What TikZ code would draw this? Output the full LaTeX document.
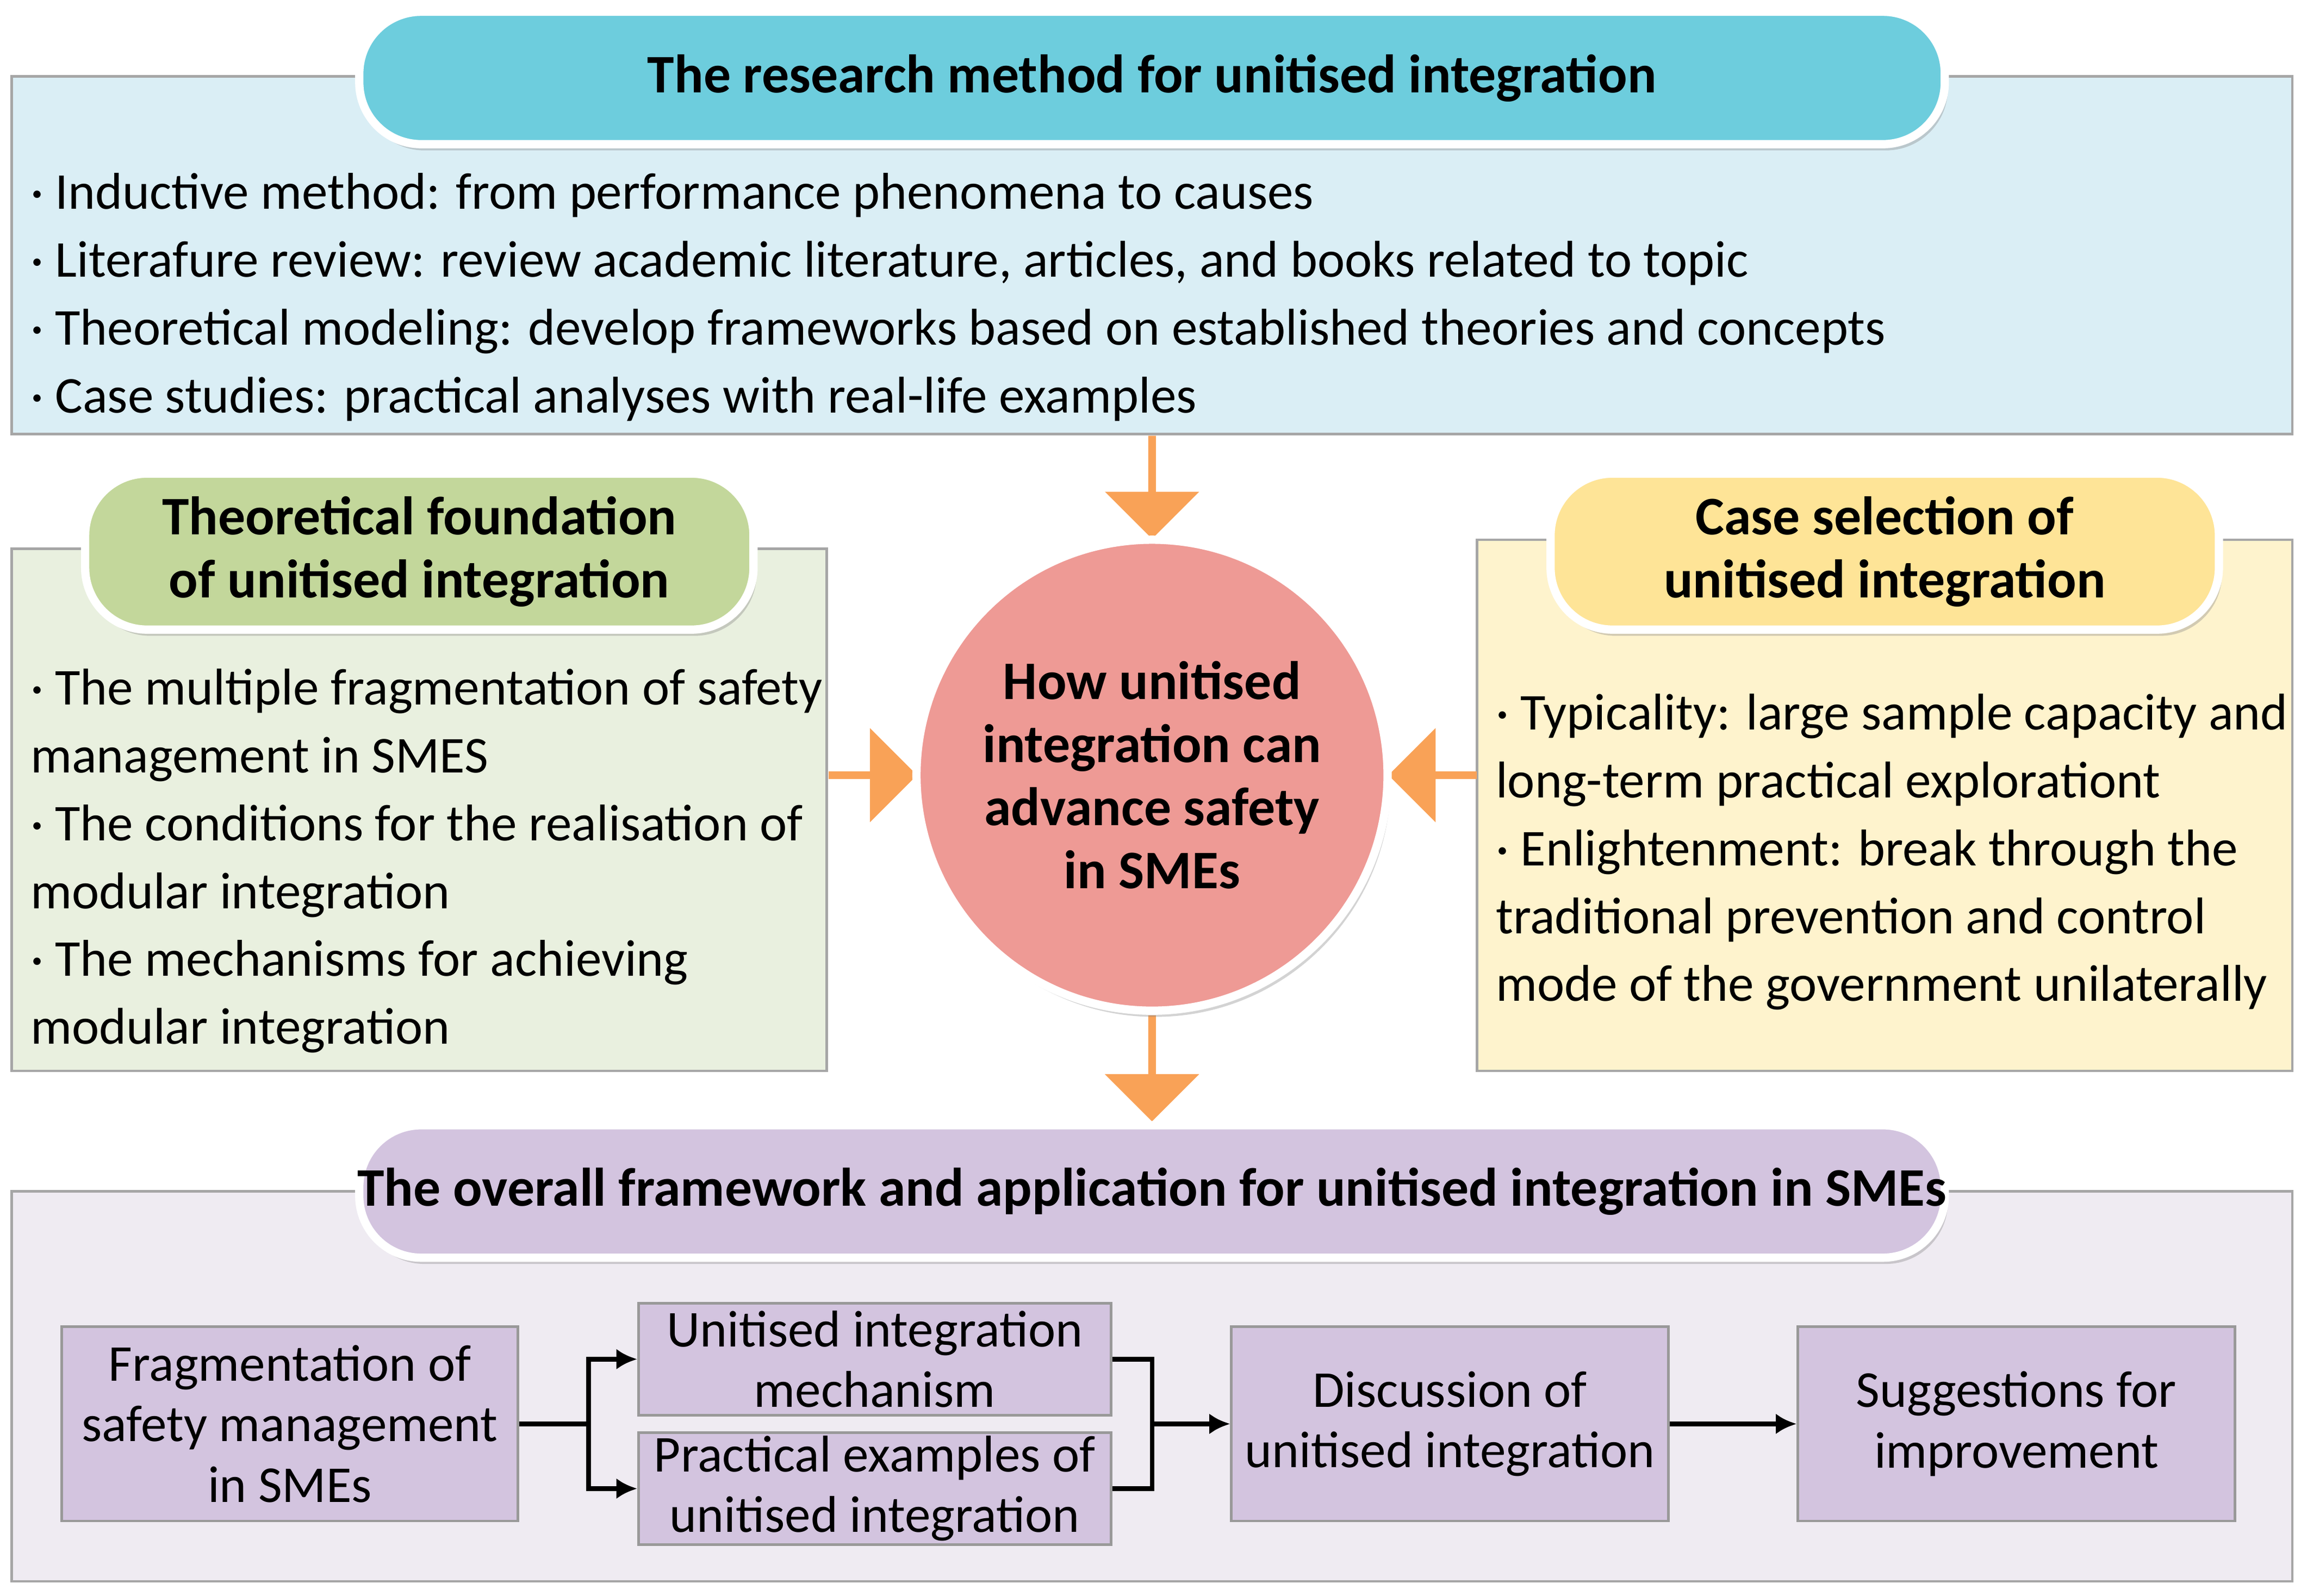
\documentclass[tikz,border=0pt]{standalone}
\usepackage{fontspec}
\setmainfont{Carlito}
\usetikzlibrary{shapes.arrows,shadows,calc,arrows.meta}
\definecolor{bluebg}{HTML}{DAEEF5}\definecolor{bluep}{HTML}{6DCDDD}
\definecolor{greenbg}{HTML}{E9F0DF}\definecolor{greenp}{HTML}{C3D79B}
\definecolor{yelbg}{HTML}{FEF3CD}\definecolor{yelp}{HTML}{FEE497}
\definecolor{purbg}{HTML}{EFEBF2}\definecolor{purp}{HTML}{D3C4DF}
\definecolor{circ}{HTML}{EE9A95}\definecolor{arr}{HTML}{F9A257}
\begin{document}
\begin{tikzpicture}[x=0.01cm,y=-0.01cm,
 panel/.style={draw=gray!70,line width=0.5pt},
 pill/.style={draw=white,line width=1.6pt,rounded corners=0.42cm,drop shadow={opacity=0.35,shadow xshift=0.6pt,shadow yshift=-1.2pt}},
 ttl/.style={font=\fontsize{10.5}{12.2}\selectfont\bfseries,align=center,text=black},
 body/.style={font=\fontsize{10}{11.7}\selectfont,align=left,anchor=north west,inner sep=0pt},
 sbox/.style={draw=gray!80,fill=purp,line width=0.5pt,font=\fontsize{10}{11.7}\selectfont,align=center,inner sep=0pt},
 bigarr/.style={fill=arr,draw=none},
 conn/.style={line width=0.9pt,-{Latex[length=4pt,width=4pt]}}]
\useasboundingbox (0,0) rectangle (1568,1085);
% top
\draw[panel,fill=bluebg] (8,52) rectangle (1558,295);
\node[pill,fill=bluep,minimum width=10.77cm,minimum height=0.9cm] (tp) at (783,53) {};
\node[ttl] at (tp) {The research method for unitised integration};
\node[body] (tb) at (20,117) {· Inductive method: from performance phenomena to causes\\[0.5mm]· Literafure review: review academic literature, articles, and books related to topic\\[0.5mm]· Theoretical modeling: develop frameworks based on established theories and concepts\\[0.5mm]· Case studies: practical analyses with real-life examples};
% green
\draw[panel,fill=greenbg] (8,373) rectangle (562,728);
\node[pill,fill=greenp,minimum width=4.54cm,minimum height=1.06cm] (gp) at (285,375) {};
\node[ttl] at (gp) {Theoretical foundation\\of unitised integration};
\node[body] (gb) at (20,454) {· The multiple fragmentation of safety\\[0.5mm]management in SMES\\[0.5mm]· The conditions for the realisation of\\[0.5mm]modular integration\\[0.5mm]· The mechanisms for achieving\\[0.5mm]modular integration};
% yellow
\draw[panel,fill=yelbg] (1004,367) rectangle (1558,728);
\node[pill,fill=yelp,minimum width=4.54cm,minimum height=1.06cm] (yp) at (1281,375) {};
\node[ttl] at (yp) {Case selection of\\unitised integration};
\node[body] (yb) at (1016,471) {· Typicality: large sample capacity and\\[0.5mm]long-term practical explorationt\\[0.5mm]· Enlightenment: break through the\\[0.5mm]traditional prevention and control\\[0.5mm]mode of the government unilaterally};
% arrows
\node[bigarr,single arrow,shape border rotate=270,minimum height=0.7cm,minimum width=0.64cm,single arrow head extend=0.08cm,inner sep=0pt] (a1) at (783,330) {};
\node[bigarr,single arrow,minimum height=0.6cm,minimum width=0.64cm,single arrow head extend=0.08cm,inner sep=0pt] (a2) at (592,527) {};
\node[bigarr,single arrow,shape border rotate=180,minimum height=0.6cm,minimum width=0.64cm,single arrow head extend=0.08cm,inner sep=0pt] (a3) at (975,527) {};
\node[bigarr,single arrow,shape border rotate=270,minimum height=0.72cm,minimum width=0.64cm,single arrow head extend=0.08cm,inner sep=0pt] (a4) at (783,725) {};
% circle
\node[circle,fill=circ,draw=white,line width=1.6pt,minimum size=3.2cm,drop shadow={opacity=0.35,shadow xshift=0.6pt,shadow yshift=-1.2pt},ttl] (c) at (783,527) {How unitised\\integration can\\advance safety\\in SMEs};
% bottom
\draw[panel,fill=purbg] (8,810) rectangle (1558,1075);
\node[pill,fill=purp,minimum width=10.77cm,minimum height=0.9cm] (bp) at (783,810) {};
\node[ttl] at (bp) {The overall framework and application for unitised integration in SMEs};
\node[sbox,minimum width=3.1cm,minimum height=1.32cm] (A) at (197,968) {Fragmentation of\\safety management\\in SMEs};
\node[sbox,minimum width=3.21cm,minimum height=0.76cm] (B) at (594.5,924) {Unitised integration\\mechanism};
\node[sbox,minimum width=3.21cm,minimum height=0.76cm] (C) at (594.5,1012) {Practical examples of\\unitised integration};
\node[sbox,minimum width=2.97cm,minimum height=1.32cm] (D) at (985.5,968) {Discussion of\\unitised integration};
\node[sbox,minimum width=2.97cm,minimum height=1.32cm] (E) at (1370.5,968) {Suggestions for\\improvement};
\coordinate (s1) at (400,968);
\coordinate (s2) at (783,968);
\draw[line width=0.9pt] (A.east) -- (s1);
\draw[conn] (s1) |- (B.west);
\draw[conn] (s1) |- (C.west);
\draw[line width=0.9pt] (B.east) -| (s2);
\draw[line width=0.9pt] (C.east) -| (s2);
\draw[conn] (s2) -- (D.west);
\draw[conn] (D.east) -- (E.west);
\end{tikzpicture}
\end{document}
